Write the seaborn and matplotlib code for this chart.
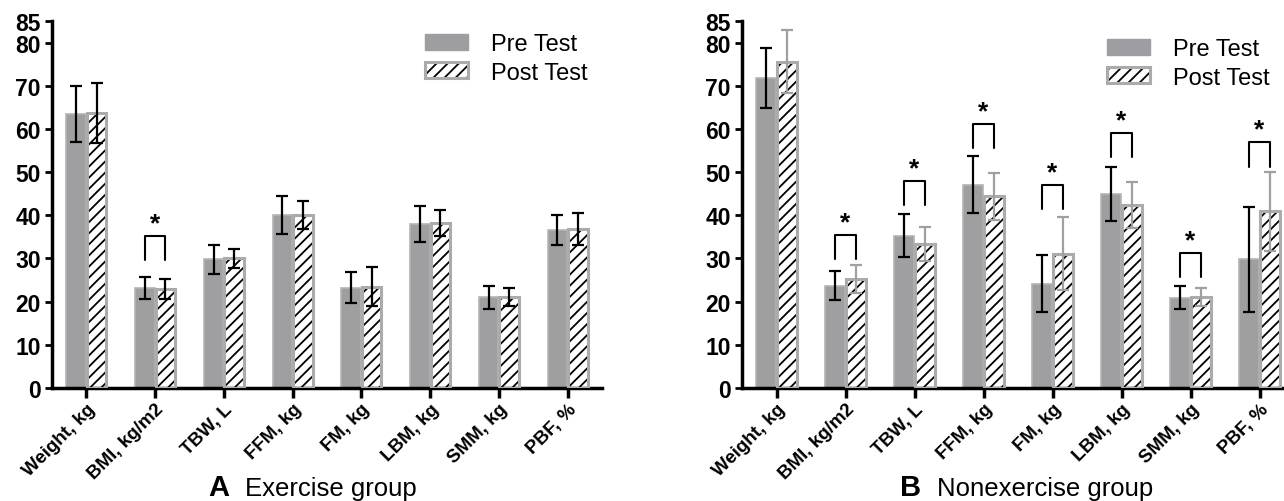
import seaborn as sns
import pandas as pd
import matplotlib.pyplot as plt
import matplotlib
import numpy as np
from matplotlib.patches import Patch, Rectangle

sns.set_style('ticks')
plt.rcParams['font.family'] = ['Liberation Sans', 'DejaVu Sans']
plt.rcParams['hatch.linewidth'] = 1.3
plt.rcParams['axes.edgecolor'] = 'black'
plt.rcParams['xtick.color'] = 'black'
plt.rcParams['ytick.color'] = 'black'
plt.rcParams['text.color'] = 'black'

measures = ['Weight, kg', 'BMI, kg/m2', 'TBW, L', 'FFM, kg', 'FM, kg',
            'LBM, kg', 'SMM, kg', 'PBF, %']
tests = ['Pre Test', 'Post Test']

# A: exercise group
ex_pre = [63.5, 23.2, 29.8, 40.0, 23.2, 38.0, 21.0, 36.6]
ex_post = [63.7, 23.0, 30.0, 40.1, 23.5, 38.2, 21.1, 36.9]
ex_pre_sd = [6.5, 2.5, 3.3, 4.4, 3.6, 4.2, 2.7, 3.5]
ex_post_sd = [7.0, 2.3, 2.2, 3.3, 4.5, 3.0, 2.0, 3.7]
ex_sig = [1]            # index of measures with *
ex_sig_top = [35.2]

# B: nonexercise group
nx_pre = [71.8, 23.7, 35.3, 47.1, 24.2, 45.0, 20.9, 29.8]
nx_post = [75.6, 25.3, 33.4, 44.4, 31.1, 42.4, 21.1, 40.9]
nx_pre_sd = [7.0, 3.3, 4.9, 6.6, 6.7, 6.3, 2.7, 12.2]
nx_post_sd = [7.3, 3.2, 4.0, 5.4, 8.4, 5.3, 2.0, 9.2]
nx_sig = [1, 2, 3, 4, 5, 6, 7]
nx_sig_top = [35.5, 47.9, 61.2, 47.0, 59.0, 31.2, 56.9]

pre_color = '#9e9ea2'
edge_gray = '#ababab'


def draw_panel(ax, pre, post, pre_sd, post_sd, sig, sig_top, post_err_color):
    df = pd.DataFrame({
        'measure': measures * 2,
        'test': [tests[0]] * len(measures) + [tests[1]] * len(measures),
        'value': pre + post,
    })
    sns.barplot(data=df, x='measure', y='value', hue='test', order=measures,
                hue_order=tests, palette=[pre_color, 'white'], width=0.6,
                gap=0.06, errorbar=None, legend=False, ax=ax,
                edgecolor='#b4b4b4', linewidth=1.2)

    pre_bars, post_bars = ax.containers[0], ax.containers[1]
    for p in post_bars:
        p.set_hatch('///')
        p.set_edgecolor('black')
        p.set_linewidth(0)
        ax.add_patch(Rectangle(p.get_xy(), p.get_width(), p.get_height(),
                               fill=False, edgecolor=edge_gray, lw=2.2, zorder=3))

    xs_pre = [p.get_x() + p.get_width() / 2 for p in pre_bars]
    xs_post = [p.get_x() + p.get_width() / 2 for p in post_bars]
    ax.errorbar(xs_pre, pre, yerr=pre_sd, fmt='none', ecolor='black',
                elinewidth=1.6, capsize=4.5, capthick=1.6, zorder=4)
    ax.errorbar(xs_post, post, yerr=post_sd, fmt='none', ecolor=post_err_color,
                elinewidth=1.6, capsize=4.5, capthick=1.6, zorder=4)

    for i, top in zip(sig, sig_top):
        x0, x1 = xs_pre[i], xs_post[i]
        ax.plot([x0, x0, x1, x1], [top - 5.6, top, top, top - 5.6],
                color='black', lw=1.5, clip_on=False, zorder=5)
        ax.text((x0 + x1) / 2, top + 0.2, '*', ha='center', va='bottom',
                fontsize=19, fontweight='bold')

    ax.set_xlim(-0.5, 7.5)
    ax.set_ylim(0, 85)
    ax.set_yticks(list(range(0, 81, 10)) + [85])
    ax.set_xlabel('')
    ax.set_ylabel('')
    ax.set_xticks(range(len(measures)))
    ax.set_xticklabels(measures, rotation=45, ha='right', rotation_mode='anchor',
                       fontsize=13.5, fontweight='bold')
    for lab in ax.get_yticklabels():
        lab.set_fontweight('bold')
        lab.set_fontsize(16.5)
    sns.despine(ax=ax)
    ax.spines['left'].set_linewidth(2.5)
    ax.spines['bottom'].set_linewidth(2.5)
    ax.tick_params(axis='y', length=5, width=2, pad=3)
    ax.tick_params(axis='x', length=7, width=2.5, pad=2)


fig = plt.figure(figsize=(12.84, 5.02), dpi=100)
ax1 = fig.add_axes([52 / 1284, 113 / 502, 550 / 1284, 367 / 502])
ax2 = fig.add_axes([742 / 1284, 113 / 502, 552 / 1284, 367 / 502])

draw_panel(ax1, ex_pre, ex_post, ex_pre_sd, ex_post_sd, ex_sig, ex_sig_top, 'black')
draw_panel(ax2, nx_pre, nx_post, nx_pre_sd, nx_post_sd, nx_sig, nx_sig_top, '#a0a0a0')

handles = [Patch(facecolor=pre_color, edgecolor=pre_color),
           (Patch(facecolor='white', edgecolor='black', hatch='///', lw=0),
            Patch(facecolor='none', edgecolor=edge_gray, lw=2.2))]
for ax, anchor in [(ax1, (425 / 1284, 1 - 34 / 502)), (ax2, (1107 / 1284, 1 - 39 / 502))]:
    ax.legend(handles, tests, loc='upper left', bbox_to_anchor=anchor,
              bbox_transform=fig.transFigure, frameon=False, fontsize=17,
              handlelength=1.8, handleheight=0.65, handletextpad=1.0,
              labelspacing=0.28, borderpad=0, borderaxespad=0)

fig.text(208 / 1284, 6 / 502, 'A', fontsize=21, fontweight='bold', va='baseline')
fig.text(245 / 1284, 6 / 502, 'Exercise group', fontsize=18.5, va='baseline')
fig.text(900 / 1284, 6 / 502, 'B', fontsize=21, fontweight='bold', va='baseline')
fig.text(937 / 1284, 6 / 502, 'Nonexercise group', fontsize=18.5, va='baseline')

plt.savefig('out.png', dpi=100)
